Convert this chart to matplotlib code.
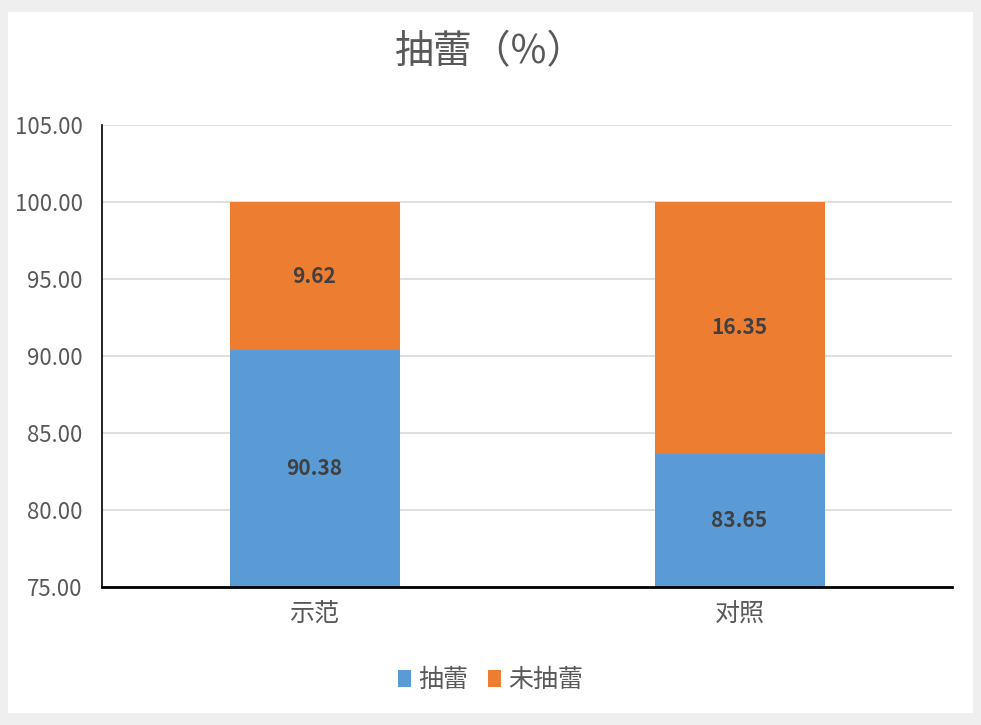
import matplotlib
matplotlib.use('Agg')
import matplotlib.pyplot as plt
from matplotlib.patches import Rectangle
import numpy as np

plt.rcParams['font.family'] = ['Noto Sans CJK SC', 'DejaVu Sans']

categories = ['示范', '对照']
bloomed = [90.38, 83.65]
not_bloomed = [9.62, 16.35]
series_names = ['抽蕾', '未抽蕾']
yticks = [75, 80, 85, 90, 95, 100, 105]

blue = '#5b9bd5'
orange = '#ed7d31'
grey_text = '#595959'

fig = plt.figure(figsize=(9.81, 7.25), dpi=100)
fig.patch.set_facecolor('#efefef')
fig.patches.append(Rectangle((8 / 981, 12 / 725), 1 - 16 / 981, 1 - 24 / 725,
                             transform=fig.transFigure, facecolor='white',
                             edgecolor='none', zorder=-10))

ax = fig.add_axes([102 / 981, 1 - 587 / 725, 850 / 981, (587 - 125) / 725])
ax.set_facecolor('white')

x = np.arange(len(categories))
b1 = ax.bar(x, bloomed, width=0.4, color=blue, label=series_names[0], zorder=2)
b2 = ax.bar(x, not_bloomed, width=0.4, bottom=bloomed, color=orange,
            label=series_names[1], zorder=2)

for i in range(len(categories)):
    ax.text(x[i], (75 + bloomed[i]) / 2, f'{bloomed[i]:.2f}', ha='center',
            va='center', fontsize=15, fontweight='bold', color='#404040')
    ax.text(x[i], bloomed[i] + not_bloomed[i] / 2, f'{not_bloomed[i]:.2f}',
            ha='center', va='center', fontsize=15, fontweight='bold', color='#404040')

ax.set_xlim(-0.5, 1.5)
ax.set_ylim(75, 105)
ax.set_yticks(yticks)
ax.set_yticklabels([f'{v:.2f}' for v in yticks])
ax.set_xticks(x)
ax.set_xticklabels(categories)
ax.tick_params(axis='y', length=0, labelsize=16, labelcolor=grey_text, pad=14)
ax.tick_params(axis='x', length=0, labelsize=18, labelcolor=grey_text, pad=10)

ax.grid(axis='y', color='#d9d9d9', linewidth=1.2, zorder=0)
ax.set_axisbelow(True)
for s in ['top', 'right']:
    ax.spines[s].set_visible(False)
ax.spines['left'].set_color('black')
ax.spines['bottom'].set_color('black')
ax.spines['left'].set_linewidth(1.2)
ax.spines['bottom'].set_linewidth(2)

fig.text(0.5, 1 - 52 / 725, '抽蕾（%）', ha='center', va='center', fontsize=28,
         color=grey_text)

fig.legend(handles=[b1, b2], labels=series_names, loc='center',
           bbox_to_anchor=(0.5, 1 - 680 / 725), ncol=2, frameon=False,
           fontsize=18, labelcolor=grey_text, handlelength=0.5, handleheight=0.7,
           handletextpad=0.3, columnspacing=0.8)

fig.savefig('out.png', dpi=100, facecolor=fig.get_facecolor())
